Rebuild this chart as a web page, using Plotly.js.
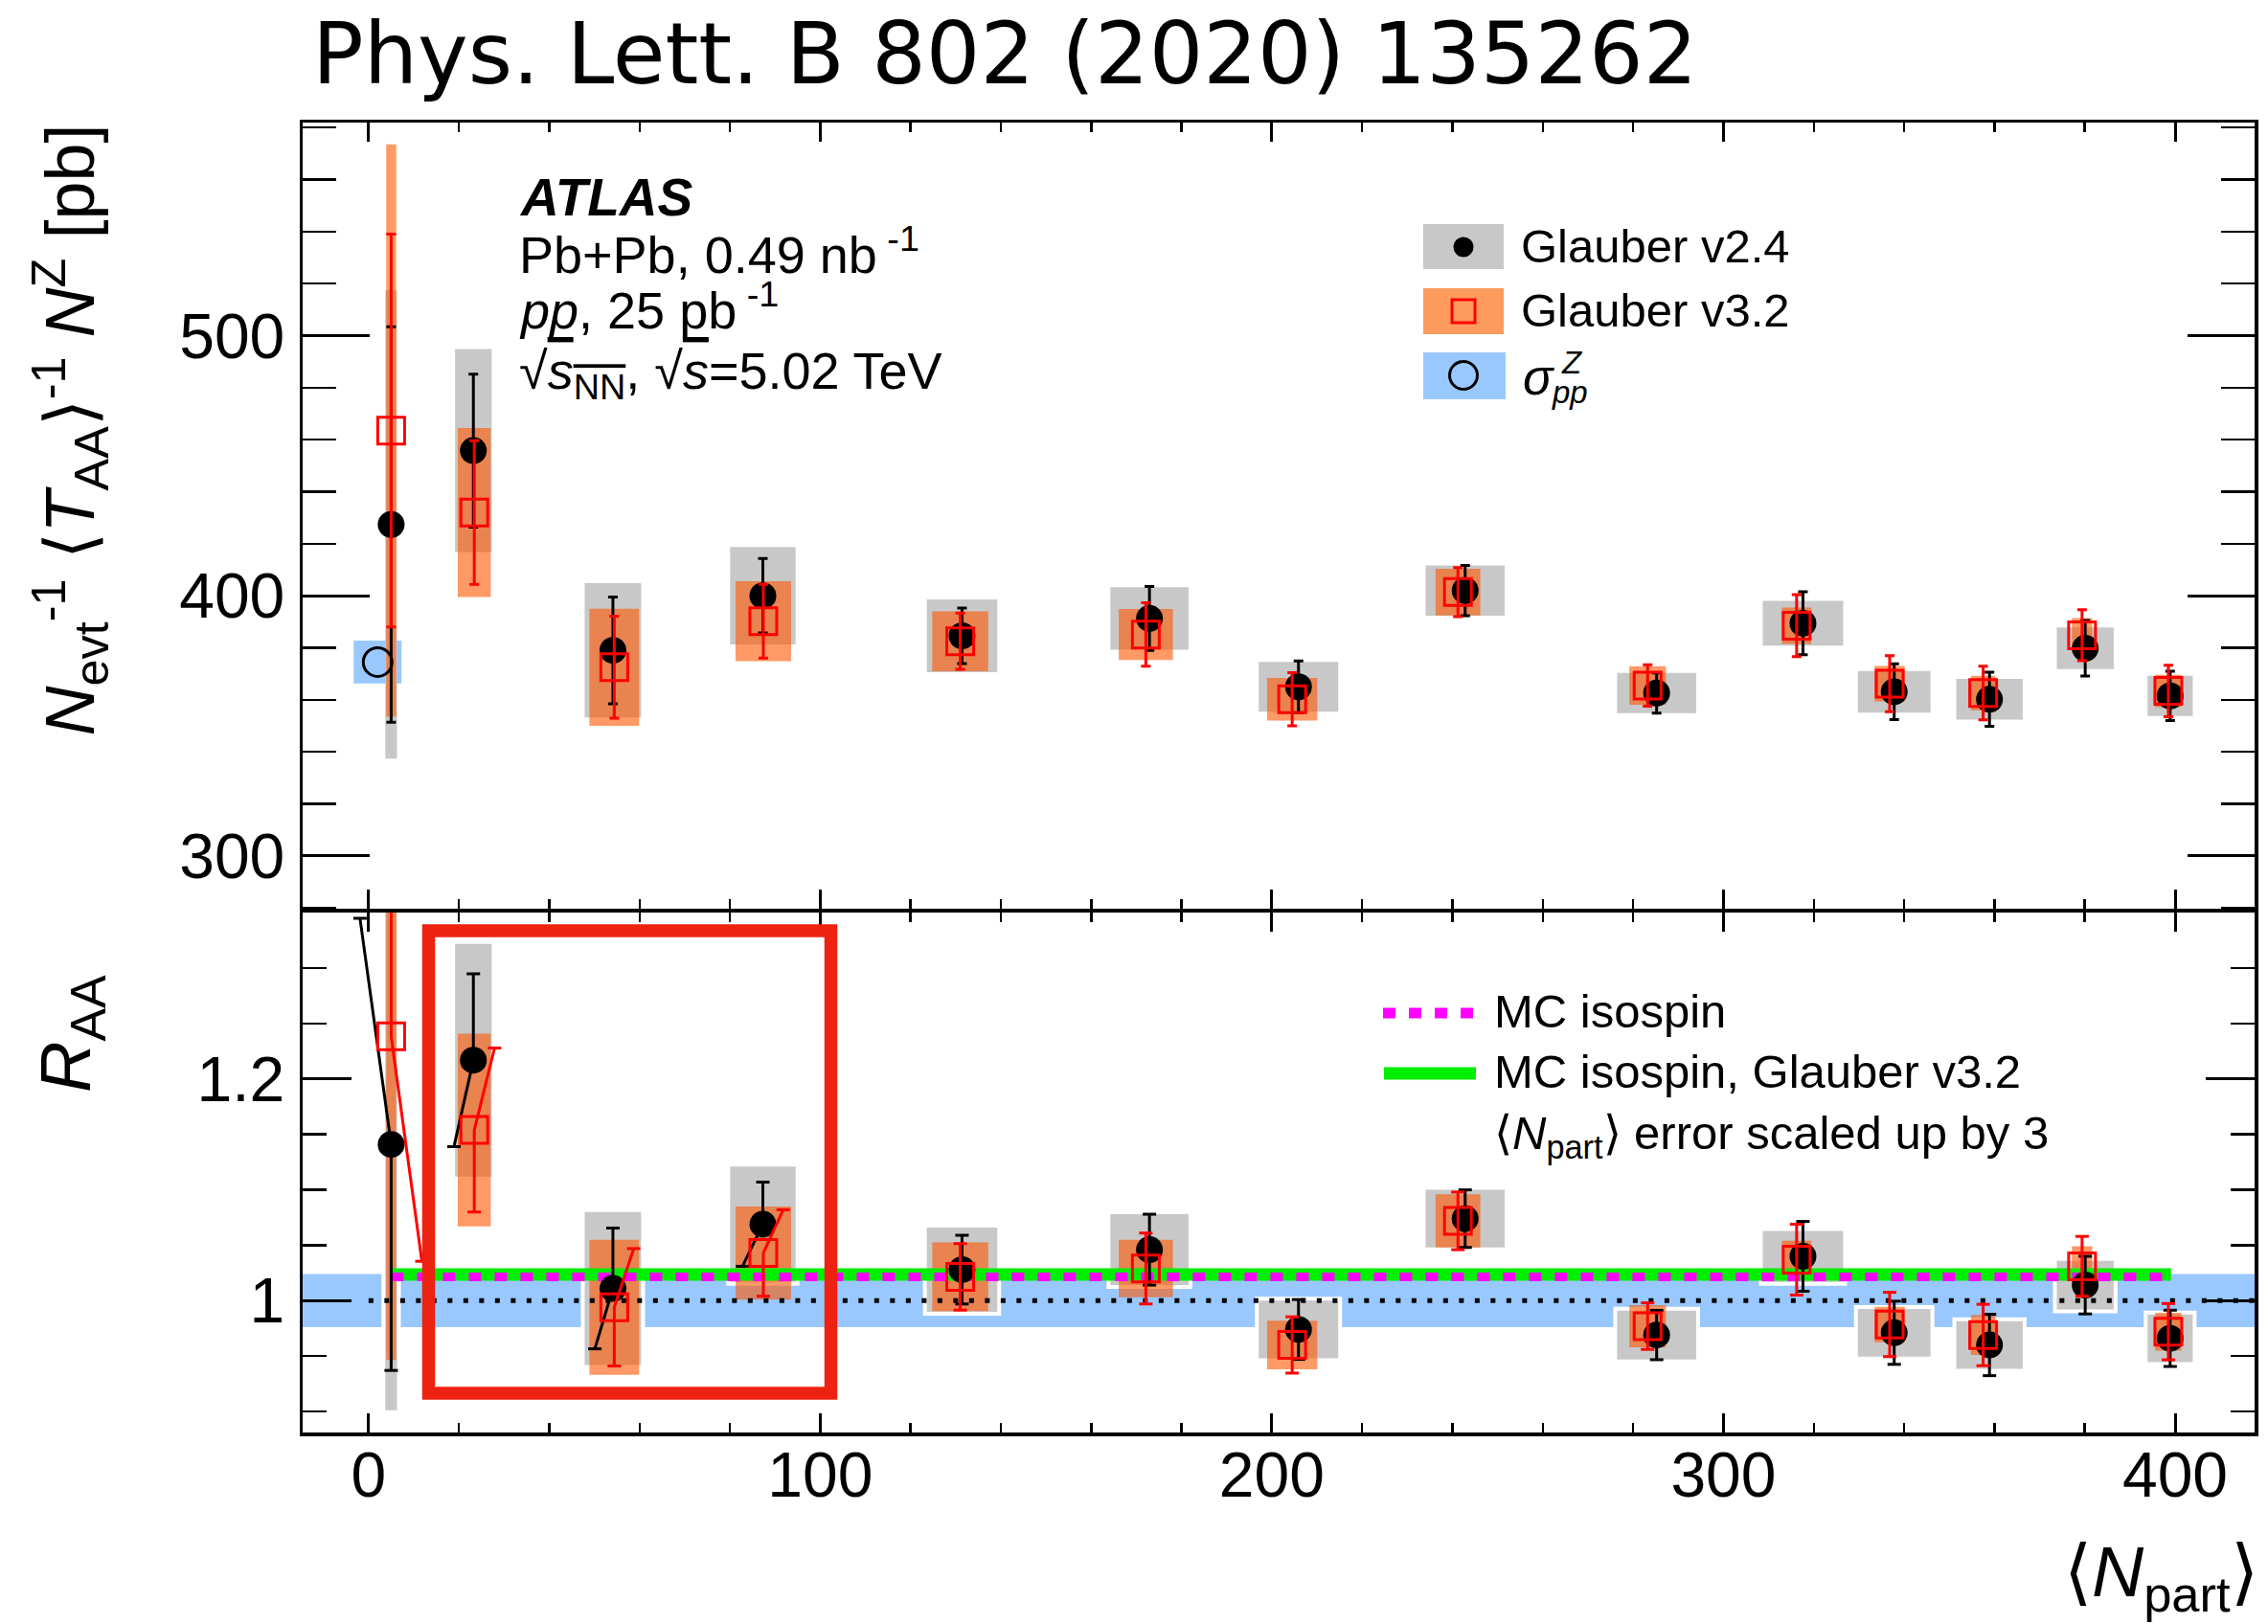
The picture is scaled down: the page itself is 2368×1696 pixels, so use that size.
<!DOCTYPE html>
<html>
<head>
<meta charset="utf-8">
<script src="https://cdn.plot.ly/plotly-3.0.1.min.js"></script>
<style>html,body{margin:0;padding:0;background:#fff}</style>
</head>
<body>
<div id="chart" style="width:2368px;height:1696px"></div>
<script>
// ---------------- data ----------------
const npartV24 = [5.0, 23.2, 54.1, 87.3, 131.4, 172.9, 205.9, 242.8, 285.2, 317.6, 337.8, 358.9, 380.1, 398.9];
const npartV32 = [5.0, 23.4, 54.4, 87.4, 131.0, 172.1, 204.5, 241.2, 283.2, 316.2, 336.8, 357.5, 379.4, 398.5];
const npartSysV24 = [1.3, 4.05, 6.25, 7.25, 7.8, 8.65, 8.8, 8.75, 8.75, 8.9, 8.05, 7.35, 6.3, 5.0];
const npartSysV32 = [1.1, 3.65, 5.5, 6.15, 6.2, 6.0, 5.55, 4.95, 4.05, 3.25, 3.35, 2.7, 2.25, 2.9];

const yieldV24 = [427.4, 455.8, 379.0, 400.0, 384.6, 391.3, 365.0, 402.0, 362.6, 389.4, 363.1, 360.2, 379.8, 361.5];
const yieldV24Stat = [76, 29.4, 20.5, 14.3, 10.7, 12.3, 9.9, 9.7, 7.7, 12.1, 10.7, 10.4, 10.7, 9.5];
const yieldV24Sys = [90, 39, 25.8, 18.7, 14, 12, 9.6, 9.7, 7.7, 8.6, 8, 7.8, 8, 7.7];
const yieldV32 = [463.5, 432.0, 372.5, 390.2, 382.5, 385.1, 360.2, 401.4, 365.5, 388.5, 366.2, 362.6, 384.8, 363.4];
const yieldV32Stat = [75.5, 27.6, 19.6, 14.2, 10.8, 12.2, 10.2, 9.4, 8.0, 11.9, 10.8, 10.3, 9.8, 9.9];
const yieldV32Sys = [110, 32.5, 22.5, 15.4, 11.5, 9.8, 8.2, 9.0, 7.4, 7.0, 6.8, 6.6, 6.6, 6.2];

const ppNpart = [2];
const ppNpartWidth = [5.3];
const ppXsec = [374.5];
const ppXsecErr = [8.25];
const ppRelErr = 0.024;

const raaV24 = [1.141, 1.217, 1.011, 1.069, 1.028, 1.046, 0.974, 1.074, 0.969, 1.040, 0.971, 0.960, 1.014, 0.966];
const raaV24Stat = [0.204, 0.078, 0.0545, 0.038, 0.031, 0.032, 0.027, 0.026, 0.0223, 0.0315, 0.0285, 0.0277, 0.026, 0.0254];
const raaV24Sys = [0.24, 0.105, 0.069, 0.052, 0.038, 0.032, 0.026, 0.026, 0.022, 0.023, 0.0215, 0.0215, 0.022, 0.0215];
const raaV32 = [1.2385, 1.154, 0.994, 1.043, 1.0215, 1.029, 0.960, 1.072, 0.977, 1.037, 0.9785, 0.969, 1.031, 0.972];
const raaV32Stat = [0.203, 0.074, 0.053, 0.039, 0.030, 0.032, 0.0254, 0.026, 0.021, 0.032, 0.029, 0.0277, 0.027, 0.0254];
const raaV32Sys = [0.292, 0.087, 0.061, 0.042, 0.031, 0.026, 0.022, 0.024, 0.019, 0.017, 0.016, 0.018, 0.018, 0.017];

// <Npart> error (x3) shifts of the upper / lower end of the R_AA error bars
const raaV24ShiftUp = [-6.9, 0, 0, 0, 0, 0, 0, 0, 0, 0, 0, 0, 0, 0];
const raaV24ShiftLow = [0, -4.3, -4.0, -4.5, 0, 0, 0, 0, 0, 0, 0, 0, 0, 0];
const raaV32ShiftUp = [0, 4.5, 4.3, 4.4, 0, 0, 0, 0, 0, 0, 0, 0, 0, 0];
const raaV32ShiftLow = [6.8, 0, 0, 0, 0, 0, 0, 0, 0, 0, 0, 0, 0, 0];

const mcNpart = [5.0, 399.1];
const mcIsospinRaa = [1.0215, 1.0215];
const mcIsospinV32Raa = [1.0236, 1.0236];

const xRange = [-14.6, 417.6];
const yTopRange = [279.6, 581.9];
const yBotRange = [0.881, 1.3505];

// ---------------- styling ----------------
const FONT = 'Liberation Sans, Arial, Helvetica, sans-serif';
const GRAY = '#C8C8C8';
const ORANGE = 'rgba(255,85,0,0.6)';
const BLUE = '#99C8FF';
const RED = '#FF0000';
const LW = 3.5;

const W = 2368, H = 1696, ML = 316, MR = 14, MT = 128, MB = 200;
const PW = W - ML - MR, PH = H - MT - MB;
const px = v => (v - ML) / PW;
const py = v => (H - MB - v) / PH;
const split = py(951);
const halfGap = (LW / 2) / PH;

// ---------------- shapes ----------------
const shapes = [];
shapes.push({type:'rect', xref:'x', yref:'y', layer:'below',
  x0: ppNpart[0]-ppNpartWidth[0], x1: ppNpart[0]+ppNpartWidth[0],
  y0: ppXsec[0]-ppXsecErr[0], y1: ppXsec[0]+ppXsecErr[0],
  fillcolor: BLUE, line:{width:0}});
npartV24.forEach((n,i)=>{
  shapes.push({type:'rect', xref:'x', yref:'y', layer:'below',
    x0:n-npartSysV24[i], x1:n+npartSysV24[i],
    y0:yieldV24[i]-yieldV24Sys[i], y1:yieldV24[i]+yieldV24Sys[i],
    fillcolor:GRAY, line:{width:0}});
});
npartV32.forEach((n,i)=>{
  shapes.push({type:'rect', xref:'x', yref:'y', layer:'below',
    x0:n-npartSysV32[i], x1:n+npartSysV32[i],
    y0:yieldV32[i]-yieldV32Sys[i], y1:yieldV32[i]+yieldV32Sys[i],
    fillcolor:ORANGE, line:{width:0}});
});
shapes.push({type:'rect', xref:'x2 domain', yref:'y2', layer:'below',
  x0:0, x1:1, y0:1-ppRelErr, y1:1+ppRelErr, fillcolor:BLUE, line:{width:0}});
npartV24.forEach((n,i)=>{
  shapes.push({type:'rect', xref:'x2', yref:'y2', layer:'below',
    x0:n-npartSysV24[i], x1:n+npartSysV24[i],
    y0:raaV24[i]-raaV24Sys[i], y1:raaV24[i]+raaV24Sys[i],
    fillcolor:'#FFFFFF', line:{width:8, color:'#FFFFFF'}});
});
npartV24.forEach((n,i)=>{
  shapes.push({type:'rect', xref:'x2', yref:'y2', layer:'below',
    x0:n-npartSysV24[i], x1:n+npartSysV24[i],
    y0:raaV24[i]-raaV24Sys[i], y1:raaV24[i]+raaV24Sys[i],
    fillcolor:GRAY, line:{width:0}});
});
npartV32.forEach((n,i)=>{
  shapes.push({type:'rect', xref:'x2', yref:'y2', layer:'below',
    x0:n-npartSysV32[i], x1:n+npartSysV32[i],
    y0:raaV32[i]-raaV32Sys[i], y1:raaV32[i]+raaV32Sys[i],
    fillcolor:ORANGE, line:{width:0}});
});

// legend (top)
shapes.push({type:'rect', xref:'paper', yref:'paper', x0:px(1486), x1:px(1570), y0:py(281), y1:py(234), fillcolor:GRAY, line:{width:0}});
shapes.push({type:'rect', xref:'paper', yref:'paper', x0:px(1486), x1:px(1570), y0:py(349), y1:py(301), fillcolor:'#FD9A5E', line:{width:0}});
shapes.push({type:'rect', xref:'paper', yref:'paper', x0:px(1486), x1:px(1572), y0:py(417), y1:py(368), fillcolor:BLUE, line:{width:0}});
shapes.push({type:'circle', xref:'paper', yref:'paper', xsizemode:'pixel', ysizemode:'pixel',
  xanchor:px(1528), yanchor:py(258), x0:-10.5, x1:10.5, y0:-10.5, y1:10.5, fillcolor:'#000', line:{width:0}});
shapes.push({type:'rect', xref:'paper', yref:'paper', xsizemode:'pixel', ysizemode:'pixel',
  xanchor:px(1528), yanchor:py(325), x0:-12, x1:12, y0:-12, y1:12, fillcolor:'rgba(0,0,0,0)', line:{width:3, color:RED}});
shapes.push({type:'circle', xref:'paper', yref:'paper', xsizemode:'pixel', ysizemode:'pixel',
  xanchor:px(1528), yanchor:py(392), x0:-14.5, x1:14.5, y0:-14.5, y1:14.5, fillcolor:'rgba(0,0,0,0)', line:{width:3, color:'#000'}});
// legend (bottom)
shapes.push({type:'line', xref:'paper', yref:'paper', x0:px(1444), x1:px(1541), y0:py(1058), y1:py(1058),
  line:{color:'#FF00FF', width:11, dash:'13px,14px'}});
shapes.push({type:'line', xref:'paper', yref:'paper', x0:px(1445), x1:px(1541), y0:py(1121), y1:py(1121),
  line:{color:'#00EE00', width:13}});
// red highlight frame
shapes.push({type:'rect', xref:'paper', yref:'paper', layer:'above',
  x0:px(447.5), x1:px(867.5), y0:py(1455), y1:py(972),
  fillcolor:'rgba(0,0,0,0)', line:{color:'#EE2211', width:13.5}});

// ---------------- traces ----------------
function tilted(x, y, e, sUp, sLow){
  const lx=[], ly=[], cx=[], cy=[];
  x.forEach((xi,i)=>{
    lx.push(xi+sUp[i], xi, xi+sLow[i], null);
    ly.push(y[i]+e[i], y[i], y[i]-e[i], null);
    cx.push(xi+sUp[i], xi+sLow[i]);
    cy.push(y[i]+e[i], y[i]-e[i]);
  });
  return {lx, ly, cx, cy};
}
const t24 = tilted(npartV24, raaV24, raaV24Stat, raaV24ShiftUp, raaV24ShiftLow);
const t32 = tilted(npartV32, raaV32, raaV32Stat, raaV32ShiftUp, raaV32ShiftLow);

const traces = [
  {type:'scatter', mode:'markers', x:ppNpart, y:ppXsec, xaxis:'x', yaxis:'y',
   marker:{symbol:'circle-open', size:30, color:'#000', line:{width:3, color:'#000'}}},
  {type:'scatter', mode:'markers', x:npartV24, y:yieldV24, xaxis:'x', yaxis:'y',
   error_y:{type:'data', array:yieldV24Stat, visible:true, color:'#000', thickness:3, width:5},
   marker:{symbol:'circle', size:28, color:'#000'}},
  {type:'scatter', mode:'markers', x:npartV32, y:yieldV32, xaxis:'x', yaxis:'y',
   error_y:{type:'data', array:yieldV32Stat, visible:true, color:RED, thickness:3, width:5},
   marker:{symbol:'square-open', size:28, color:RED, line:{width:3, color:RED}}},
  {type:'scatter', mode:'lines', x:[0, xRange[1]], y:[1, 1], xaxis:'x2', yaxis:'y2',
   line:{color:'#000', width:5, dash:'5px,11.5px'}},
  {type:'scatter', mode:'lines', x:mcNpart, y:mcIsospinV32Raa, xaxis:'x2', yaxis:'y2',
   line:{color:'#00EE00', width:13}},
  {type:'scatter', mode:'lines', x:mcNpart, y:mcIsospinRaa, xaxis:'x2', yaxis:'y2',
   line:{color:'#FF00FF', width:9, dash:'13px,14px'}},
  {type:'scatter', mode:'lines', x:t24.lx, y:t24.ly, xaxis:'x2', yaxis:'y2',
   line:{color:'#000', width:3}, connectgaps:false},
  {type:'scatter', mode:'markers', x:t24.cx, y:t24.cy, xaxis:'x2', yaxis:'y2',
   marker:{symbol:'line-ew', size:10, line:{width:3, color:'#000'}}},
  {type:'scatter', mode:'markers', x:npartV24, y:raaV24, xaxis:'x2', yaxis:'y2',
   marker:{symbol:'circle', size:28, color:'#000'}},
  {type:'scatter', mode:'lines', x:t32.lx, y:t32.ly, xaxis:'x2', yaxis:'y2',
   line:{color:RED, width:3}, connectgaps:false},
  {type:'scatter', mode:'markers', x:t32.cx, y:t32.cy, xaxis:'x2', yaxis:'y2',
   marker:{symbol:'line-ew', size:10, line:{width:3, color:RED}}},
  {type:'scatter', mode:'markers', x:npartV32, y:raaV32, xaxis:'x2', yaxis:'y2',
   marker:{symbol:'square-open', size:28, color:RED, line:{width:3, color:RED}}}
];
traces.forEach(t=>{t.showlegend=false; t.hoverinfo='skip';});

// ---------------- axes ----------------
const common = {showline:true, linewidth:LW, linecolor:'#000', mirror:'allticks',
  ticks:'inside', tickcolor:'#000', tickwidth:3, showgrid:false, zeroline:false,
  tickfont:{family:FONT, size:66, color:'#000'}};

const layout = {
  width:W, height:H, margin:{l:ML, r:MR, t:MT, b:MB},
  paper_bgcolor:'#fff', plot_bgcolor:'rgba(0,0,0,0)', showlegend:false,
  font:{family:FONT, color:'#000'},
  xaxis:Object.assign({}, common, {domain:[0,1], anchor:'y', range:xRange, dtick:100, tick0:0,
    ticklen:20, showticklabels:false,
    minor:{ticks:'inside', ticklen:10, dtick:20, tick0:0, tickwidth:2.5, tickcolor:'#000'}}),
  yaxis:Object.assign({}, common, {domain:[split+halfGap,1], anchor:'x', range:yTopRange, dtick:100, tick0:0,
    ticklen:70, ticklabelstandoff:2,
    minor:{ticks:'inside', ticklen:35, dtick:20, tick0:0, tickwidth:2.5, tickcolor:'#000'}}),
  xaxis2:Object.assign({}, common, {domain:[0,1], anchor:'y2', range:xRange, dtick:100, tick0:0,
    ticklen:20, ticklabelstandoff:-16,
    minor:{ticks:'inside', ticklen:10, dtick:20, tick0:0, tickwidth:2.5, tickcolor:'#000'}}),
  yaxis2:Object.assign({}, common, {domain:[0,split-halfGap], anchor:'x2', range:yBotRange, dtick:0.2, tick0:0,
    ticklen:51, ticklabelstandoff:2,
    minor:{ticks:'inside', ticklen:25, dtick:0.05, tick0:0, tickwidth:2.5, tickcolor:'#000'}}),
  shapes: shapes,
  annotations: []
};

function ann(text, x, y, size, opts){
  return Object.assign({text:text, xref:'paper', yref:'paper', x:x, y:y, showarrow:false,
    xanchor:'left', yanchor:'middle', font:{family:FONT, size:size, color:'#000'}}, opts||{});
}
const OL = 'text-decoration:overline';
layout.annotations.push(
  ann('Phys. Lett. B 802 (2020) 135262', px(324), py(56), 89, {font:{family:'DejaVu Sans', size:89, color:'#000'}}),
  ann('<b><i>ATLAS</i></b>', px(540), py(206), 55),
  ann('Pb+Pb, 0.49 nb<sup> -1</sup>', px(540), py(262), 54),
  ann('<i>pp</i>, 25 pb<sup> -1</sup>', px(540), py(320), 54),
  ann('√<span style="'+OL+'"><i>s</i><sub>NN</sub></span>, √<span style="'+OL+'"><i>s</i></span>=5.02 TeV', px(540), py(391), 54),
  ann('Glauber v2.4', px(1586), py(257), 49),
  ann('Glauber v3.2', px(1586), py(324), 49),
  ann('<i>σ</i>', px(1588), py(394), 52),
  ann('<i>Z</i>', px(1628), py(378), 33),
  ann('<i>pp</i>', px(1618), py(410), 33),
  ann('MC isospin', px(1558), py(1056), 49),
  ann('MC isospin, Glauber v3.2', px(1558), py(1119), 49),
  ann('⟨<i>N</i><sub>part</sub>⟩ error scaled up by 3', px(1558), py(1186), 49),
  ann('<i>N</i><sub>evt</sub><sup>-1</sup> ⟨<i>T</i><sub>AA</sub>⟩<sup>-1</sup> <i>N</i><sup>Z</sup> [pb]', px(72), 1, 72,
      {textangle:-90, xanchor:'center', yanchor:'top'}),
  ann('<i>R</i><sub>AA</sub>', px(74), py(1080), 74, {textangle:-90, xanchor:'center', yanchor:'middle'}),
  ann('⟨<i>N</i><sub>part</sub>⟩', px(2360), py(1646), 75, {xanchor:'right', yanchor:'middle'})
);

Plotly.newPlot('chart', traces, layout, {staticPlot:true, displayModeBar:false});
</script>
</body>
</html>
